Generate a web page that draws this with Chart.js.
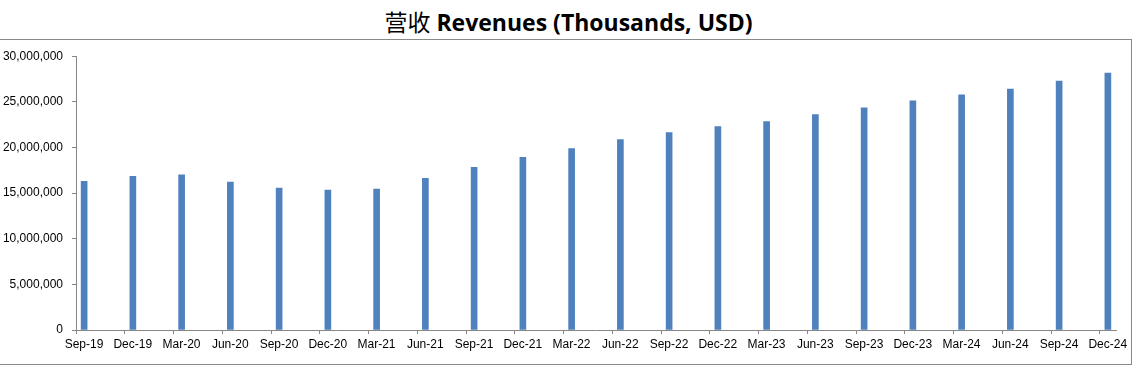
<!DOCTYPE html>
<html>
<head>
<meta charset="utf-8">
<script src="https://cdn.jsdelivr.net/npm/chart.js@4/dist/chart.umd.min.js"></script>
<style>
  body { margin: 0; background: #fff; }
  #title {
    height: 39px; width: 1137px; text-align: center;
    font: bold 23px "Open Sans", "Liberation Sans", sans-serif; line-height: 42px; color: #000;
  }
  #title .cn { font-family: "Noto Sans CJK SC", sans-serif; font-weight: normal; }
  #frame {
    width: 1131px; height: 324px;
    border-top: 1px solid #8a8a8a; border-right: 1px solid #8a8a8a; border-bottom: 1px solid #8a8a8a;
  }
</style>
</head>
<body>
<div id="title"><span class="cn">营收</span> Revenues (Thousands, USD)</div>
<div id="frame"><canvas id="revChart" width="1131" height="324"></canvas></div>
<script>
// quarter labels and revenues (thousands USD)
const quarters = ["Sep-19", "Dec-19", "Mar-20", "Jun-20", "Sep-20", "Dec-20", "Mar-21", "Jun-21",
  "Sep-21", "Dec-21", "Mar-22", "Jun-22", "Sep-22", "Dec-22", "Mar-23", "Jun-23",
  "Sep-23", "Dec-23", "Mar-24", "Jun-24", "Sep-24", "Dec-24"];
const revenues = [16300000, 16850000, 17000000, 16200000, 15540000, 15330000, 15430000, 16630000,
  17830000, 18910000, 19890000, 20870000, 21630000, 22300000, 22830000, 23590000,
  24350000, 25100000, 25760000, 26400000, 27280000, 28150000];
const yTicks = [0, 5000000, 10000000, 15000000, 20000000, 25000000, 30000000];

// date axis in months: each quarter sits in its own month slot
const points = revenues.map((v, i) => ({ x: i * 3 + 0.5, y: v }));
const axisGray = "#868686";
const tickFont = { family: "Liberation Sans", size: 12 };

new Chart(document.getElementById("revChart"), {
  type: "bar",
  data: {
    datasets: [{
      label: "Revenues",
      data: points,
      backgroundColor: "#4F81BD",
      barThickness: 6
    }]
  },
  options: {
    responsive: false,
    animation: false,
    layout: { padding: { top: 14, right: 15, left: 0, bottom: 0 } },
    plugins: { legend: { display: false }, tooltip: { enabled: false } },
    scales: {
      x: {
        type: "linear",
        offset: false,
        min: 0,
        max: quarters.length * 3 - 2,
        afterBuildTicks: (scale) => { scale.ticks = quarters.map((q, i) => ({ value: i * 3 })); },
        afterFit: (scale) => { scale.height = 34; },
        grid: { offset: false, drawOnChartArea: false, tickLength: 4, color: axisGray },
        border: { color: axisGray },
        ticks: {
          autoSkip: false, maxRotation: 0, padding: 3, labelOffset: 8, color: "#000", font: tickFont,
          callback: (v) => quarters[Math.round(v / 3)]
        }
      },
      y: {
        min: 0,
        max: 30000000,
        afterBuildTicks: (scale) => { scale.ticks = yTicks.map(v => ({ value: v })); },
        afterFit: (scale) => { scale.width = 76; },
        grid: { drawOnChartArea: false, tickLength: 4, color: axisGray },
        border: { color: axisGray },
        ticks: {
          padding: 9, color: "#000", font: tickFont,
          callback: (v) => v.toLocaleString("en-US")
        }
      }
    }
  }
});
</script>
</body>
</html>
